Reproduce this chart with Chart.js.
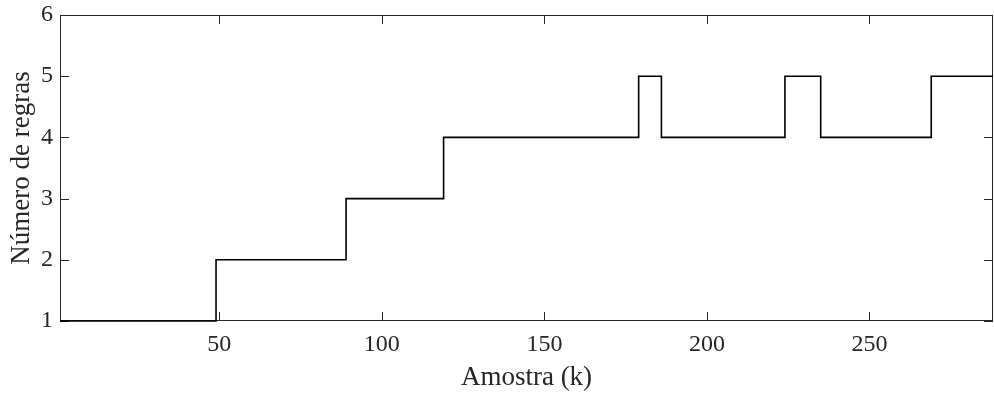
<!DOCTYPE html>
<html>
<head>
<meta charset="utf-8">
<script src="https://cdn.jsdelivr.net/npm/chart.js@4"></script>
<style>
  html, body { margin: 0; padding: 0; background: #fff; }
  #wrap { width: 994px; height: 397px; }
</style>
</head>
<body>
<div id="wrap"><canvas id="grafico"></canvas></div>
<script>
// amostra onde o número de regras muda, e o valor a partir dali
const inicioDegrau = [1, 49, 89, 119, 179, 186, 224, 235, 269];
const numeroRegras = [1, 2, 3, 4, 5, 4, 5, 4, 5];
const ultimaAmostra = 288;
const ticksX = [50, 100, 150, 200, 250];
const ticksY = [1, 2, 3, 4, 5, 6];

const pontos = inicioDegrau.map((k, i) => ({ x: k, y: numeroRegras[i] }));
pontos.push({ x: ultimaAmostra, y: numeroRegras[numeroRegras.length - 1] });

const fonte = 'Liberation Serif, Times New Roman, serif';
const corEixo = '#262626';

// caixa e ticks para dentro, estilo matlab (desenhada antes da linha)
const caixaPlugin = {
  id: 'caixa',
  beforeDatasetsDraw(chart) {
    const { ctx, chartArea: a, scales } = chart;
    const len = 9;
    ctx.save();
    ctx.strokeStyle = corEixo;
    ctx.lineWidth = 1;
    ctx.strokeRect(a.left + 0.5, a.top + 0.5, a.right - a.left - 1, a.bottom - a.top - 1);
    ctx.beginPath();
    ticksX.forEach(v => {
      const px = Math.round(scales.x.getPixelForValue(v)) + 0.5;
      ctx.moveTo(px, a.bottom); ctx.lineTo(px, a.bottom - len);
      ctx.moveTo(px, a.top); ctx.lineTo(px, a.top + len);
    });
    ticksY.forEach(v => {
      const py = Math.round(scales.y.getPixelForValue(v)) + 0.5;
      ctx.moveTo(a.left, py); ctx.lineTo(a.left + len, py);
      ctx.moveTo(a.right, py); ctx.lineTo(a.right - len, py);
    });
    ctx.stroke();
    ctx.restore();
  }
};

new Chart(document.getElementById('grafico'), {
  type: 'line',
  data: {
    datasets: [{
      data: pontos,
      stepped: 'before',
      borderColor: '#000',
      borderWidth: 1.6,
      pointRadius: 0,
      fill: false,
      clip: false
    }]
  },
  options: {
    responsive: true,
    maintainAspectRatio: false,
    animation: false,
    layout: { padding: { left: 0, top: 15, right: 1, bottom: 0 } },
    plugins: { legend: { display: false }, tooltip: { enabled: false } },
    scales: {
      x: {
        type: 'linear',
        min: 1,
        max: ultimaAmostra,
        afterBuildTicks: s => { s.ticks = ticksX.map(v => ({ value: v })); },
        afterFit: s => { s.height = 76; s.paddingLeft = 0; s.paddingRight = 0; },
        grid: { display: false, drawTicks: false },
        border: { display: false },
        ticks: { color: corEixo, padding: 9, font: { family: fonte, size: 24 } },
        title: {
          display: true,
          text: 'Amostra (k)',
          color: corEixo,
          padding: { top: 0, bottom: 3 },
          font: { family: fonte, size: 27 }
        }
      },
      y: {
        min: 1,
        max: 6,
        afterBuildTicks: s => { s.ticks = ticksY.map(v => ({ value: v })); },
        afterFit: s => { s.width = 60; s.paddingTop = 0; s.paddingBottom = 0; },
        grid: { display: false, drawTicks: false },
        border: { display: false },
        ticks: { color: corEixo, padding: 7, font: { family: fonte, size: 24 } },
        title: {
          display: true,
          text: 'Número de regras',
          color: corEixo,
          padding: { top: 6, bottom: 0 },
          font: { family: fonte, size: 27 }
        }
      }
    }
  },
  plugins: [caixaPlugin]
});
</script>
</body>
</html>
